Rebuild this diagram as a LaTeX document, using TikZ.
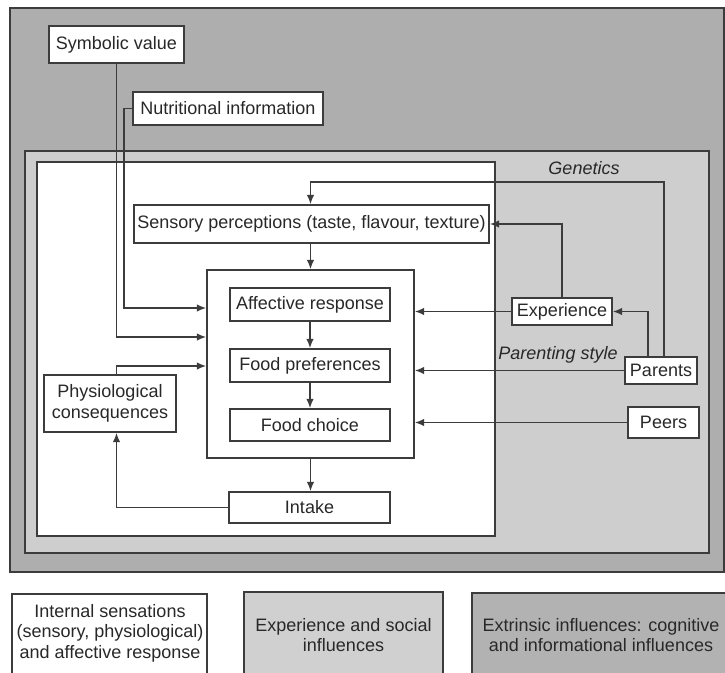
\documentclass[tikz,border=0pt]{standalone}
\usepackage{fontspec}
\setmainfont{Liberation Sans}
\usetikzlibrary{arrows.meta}
\definecolor{outerg}{RGB}{174,174,174}
\definecolor{midg}{RGB}{206,206,206}
\definecolor{legtwo}{RGB}{208,208,208}
\definecolor{legthree}{RGB}{178,178,178}
\definecolor{ln}{RGB}{60,60,60}
\definecolor{txt}{RGB}{40,40,40}
\begin{document}
\begin{tikzpicture}[x=1pt,y=-1pt,
  font=\fontsize{18}{20.5}\selectfont,
  box/.style={draw=ln, line width=1.3pt, fill=white, inner sep=0pt, text=txt, align=center},
  frame/.style={draw=ln, line width=1.3pt},
  arr/.style={draw=ln, line width=1.7pt, -{Latex[length=9.5pt,width=7.5pt]}},
  lab/.style={font=\fontsize{18}{20.5}\selectfont\itshape, text=txt, inner sep=0pt},
  legtext/.style={text=txt, align=center, inner sep=0pt}]
\useasboundingbox (0,0) rectangle (725,672);
\clip (0,0) rectangle (725,672);
% regions
\filldraw[frame, fill=outerg] (10,8) rectangle (724,572);
\filldraw[frame, fill=midg] (25,151) rectangle (709,553);
\filldraw[frame, fill=white] (37,162) rectangle (495,536);
% legend
\filldraw[frame, fill=white] (12,594) rectangle (207,680);
\filldraw[frame, fill=legtwo] (244,592) rectangle (443,680);
\filldraw[frame, fill=legthree] (472,593) rectangle (730,680);
\node[legtext] (legA) at (110,633) {Internal sensations\\(sensory, physiological)\\and affective response};
\node[legtext] (legB) at (343.5,635) {Experience and social\\influences};
\node[legtext] (legC) at (601,635) {Extrinsic influences: cognitive\\and informational influences};
% nodes
\node[box, minimum width=135, minimum height=37] (sym) at (116.5,44.5) {Symbolic value};
\node[box, minimum width=190, minimum height=33] (nut) at (228,108.5) {Nutritional information};
\node[box, minimum width=355, minimum height=38] (sens) at (311.5,224) {Sensory perceptions (taste, flavour, texture)};
\node[box, minimum width=207, minimum height=188] (core) at (310.5,364) {};
\node[box, minimum width=160, minimum height=33] (aff) at (310,304.5) {Affective response};
\node[box, minimum width=160, minimum height=33] (pref) at (310,365.5) {Food preferences};
\node[box, minimum width=160, minimum height=32] (choice) at (310,425) {Food choice};
\node[box, minimum width=161, minimum height=31] (intake) at (309.5,507.5) {Intake};
\node[box, minimum width=132, minimum height=57] (phys) at (110,403.5) {Physiological\\consequences};
\node[box, minimum width=100, minimum height=27] (exp) at (562,311.5) {Experience};
\node[box, minimum width=72, minimum height=27] (parents) at (661,370.5) {Parents};
\node[box, minimum width=71, minimum height=31] (peers) at (663.5,422.5) {Peers};
\node[lab] (gen) at (584,168) {Genetics};
\node[lab] (pstyle) at (558,355) {Parenting style};
\coordinate (g) at (664,182);
\coordinate (nk) at (124,108.5);
% connectors
\draw[arr] (sym.south) |- (core.west |- 0,337);
\draw[arr] (nut.west) -- (nk) |- (core.west |- 0,308);
\draw[arr] (phys.north -| sym.south) |- (core.west |- 0,366);
\draw[arr] (intake.west) -| (phys.south -| sym.south);
\draw[arr] (core.south) -- (intake.north -| core.south);
\draw[arr] (sens.south -| core.north) -- (core.north);
\draw[arr] (aff) -- (pref);
\draw[arr] (pref) -- (choice);
\draw[arr] (parents.north -| g) -- (g) -| (sens.north -| core.north);
\draw[arr] (exp.north) |- (sens.east);
\draw[arr] (exp.west) -- (core.east |- exp.west);
\draw[arr] ([xshift=-13pt]parents.north) |- (exp.east);
\draw[arr] (parents.west) -- (core.east |- parents.west);
\draw[arr] (peers.west) -- (core.east |- peers.west);
\end{tikzpicture}
\end{document}
